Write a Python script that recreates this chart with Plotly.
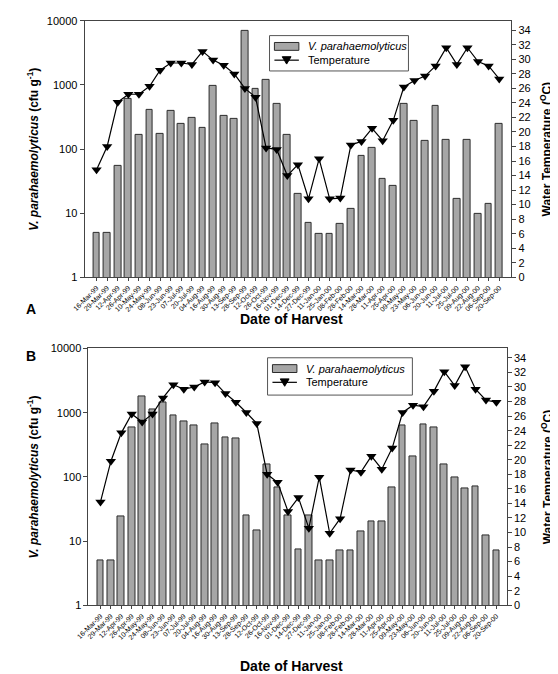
import plotly.graph_objects as go

dates = ["16-Mar-99", "29-Mar-99", "12-Apr-99", "26-Apr-99", "10-May-99", "24-May-99",
         "08-Jun-99", "23-Jun-99", "07-Jul-99", "20-Jul-99", "04-Aug-99", "16-Aug-99",
         "30-Aug-99", "13-Sep-99", "28-Sep-99", "12-Oct-99", "26-Oct-99", "16-Nov-99",
         "01-Dec-99", "14-Dec-99", "27-Dec-99", "11-Jan-00", "25-Jan-00", "08-Feb-00",
         "28-Feb-00", "14-Mar-00", "28-Mar-00", "11-Apr-00", "25-Apr-00", "09-May-00",
         "23-May-00", "06-Jun-00", "20-Jun-00", "11-Jul-00", "25-Jul-00", "09-Aug-00",
         "22-Aug-00", "06-Sep-00", "20-Sep-00"]

vp_a = [5, 5, 55, 600, 167, 405, 173, 393, 246, 307, 216, 960, 325, 297, 6950, 873,
        1200, 515, 165, 20, 7, 4.8, 4.8, 6.9, 11.7, 77, 105, 34, 27, 500, 273, 133,
        469, 141, 16.6, 138, 9.8, 14, 250]
temp_a = [14.8, 18.0, 24.1, 25.2, 25.2, 26.3, 28.5, 29.5, 29.5, 29.3, 31.1, 29.9, 29.2,
          28.0, 26.0, 24.8, 17.8, 17.6, 14.0, 15.5, 10.8, 16.3, 10.8, 10.9, 18.2, 18.7,
          20.5, 18.8, 21.6, 26.2, 27.1, 27.7, 29.1, 31.6, 29.3, 31.6, 29.7, 29.1, 27.3]

vp_b = [5, 5, 24, 586, 1790, 1125, 1420, 890, 720, 630, 325, 680, 410, 394, 25.5, 14.5,
        157, 69, 25.5, 7.3, 25, 5, 5, 7.2, 7.2, 14.2, 20, 20, 69, 640, 210, 665, 586,
        157, 98, 65, 70, 12.3, 7.2]
temp_b = [14.2, 19.8, 23.7, 26.3, 25.2, 26.3, 28.5, 30.3, 29.7, 30.0, 30.7, 30.6, 29.1,
          27.9, 26.5, 25.0, 18.0, 16.9, 12.9, 14.8, 10.6, 17.6, 9.9, 11.9, 18.6, 18.3,
          20.5, 18.7, 21.6, 26.5, 27.5, 27.3, 29.4, 32.1, 30.2, 32.8, 29.7, 28.2, 27.9]

left_ticks = [1, 10, 100, 1000, 10000]
right_ticks = list(range(0, 36, 2))
legend_labels = ["<i>V. parahaemolyticus</i>", "Temperature"]

W, H = 558, 674
FONT = "Arial, Liberation Sans, sans-serif"
BAR_COLOR = "#a6a6a6"
BAR_EDGE = "#2b2b2b"
idx = list(range(len(dates)))

def px_x(v):
    return v / W

def px_y(v):
    return 1 - v / H

fig = go.Figure()

panels = [
    dict(vp=vp_a, temp=temp_a, xa="x", ya="y", ya2="y2",
         left=66, right=502, top=7, bottom=268, xr=[-1.13, 39.13],
         leg=(255, 22, 397, 58)),
    dict(vp=vp_b, temp=temp_b, xa="x2", ya="y3", ya2="y4",
         left=70, right=497.5, top=340.5, bottom=602, xr=[-1.15, 39.0],
         leg=(253, 350, 401, 388)),
]

for p in panels:
    fig.add_trace(go.Bar(
        x=idx, y=p["vp"], xaxis=p["xa"], yaxis=p["ya"], width=0.64,
        marker=dict(color=BAR_COLOR, line=dict(color=BAR_EDGE, width=1)),
        name="V. parahaemolyticus", showlegend=False))
    fig.add_trace(go.Scatter(
        x=idx, y=p["temp"], xaxis=p["xa"], yaxis=p["ya2"], mode="lines+markers",
        line=dict(color="black", width=1.2),
        marker=dict(symbol="triangle-down", size=9, color="black"),
        name="Temperature", showlegend=False))

layout = dict(
    width=W, height=H, margin=dict(l=0, r=0, t=0, b=0),
    paper_bgcolor="white", plot_bgcolor="white",
    font=dict(family=FONT, color="black"),
    bargap=0, showlegend=False,
)

axis_names = [("xaxis", "yaxis", "yaxis2", "y", "x"), ("xaxis2", "yaxis3", "yaxis4", "y3", "x2")]
for p, (xn, yn, yn2, yref, xref) in zip(panels, axis_names):
    xd = [px_x(p["left"]), px_x(p["right"])]
    yd = [px_y(p["bottom"]), px_y(p["top"])]
    layout[xn] = dict(
        domain=xd, anchor=yref, range=p["xr"], tickmode="array", tickvals=idx,
        ticktext=dates, tickangle=-45, tickfont=dict(size=7, family=FONT, color="black"),
        showline=True, linecolor="#444", linewidth=1, mirror=True,
        ticks="outside", ticklen=3, tickcolor="#444", showgrid=False, zeroline=False)
    layout[yn] = dict(
        domain=yd, anchor=xref, type="log", range=[0, 4], tickmode="array",
        tickvals=left_ticks, ticktext=[str(t) for t in left_ticks],
        tickfont=dict(size=11, family=FONT, color="black"), ticks="outside", ticklen=4,
        showline=True, linecolor="#444", linewidth=1, showgrid=False, zeroline=False)
    layout[yn2] = dict(
        domain=yd, anchor=xref, overlaying=yref, side="right", range=[0, 35.3],
        tickmode="array", tickvals=right_ticks,
        tickfont=dict(size=11, family=FONT, color="black"),
        ticks="outside", ticklen=4, showline=True, linecolor="#444", linewidth=1,
        showgrid=False, zeroline=False)

shapes = []
annotations = []

# legend boxes (drawn in pixel space of the page)
for p in panels:
    x0, y0, x1, y1 = p["leg"]
    shapes.append(dict(type="rect", xref="paper", yref="paper",
                       x0=px_x(x0), x1=px_x(x1), y0=px_y(y1), y1=px_y(y0),
                       line=dict(color="#555", width=1), fillcolor="white", layer="above"))
    r1 = y0 + 11
    r2 = y0 + 25
    shapes.append(dict(type="rect", xref="paper", yref="paper",
                       x0=px_x(x0 + 5), x1=px_x(x0 + 30), y0=px_y(r1 + 4), y1=px_y(r1 - 4),
                       line=dict(color=BAR_EDGE, width=1), fillcolor=BAR_COLOR, layer="above"))
    shapes.append(dict(type="line", xref="paper", yref="paper",
                       x0=px_x(x0 + 5), x1=px_x(x0 + 30), y0=px_y(r2), y1=px_y(r2),
                       line=dict(color="black", width=1.2), layer="above"))
    cx = x0 + 17.5
    path = "M %f,%f L %f,%f L %f,%f Z" % (
        px_x(cx - 4.5), px_y(r2 - 3.5), px_x(cx + 4.5), px_y(r2 - 3.5),
        px_x(cx), px_y(r2 + 4))
    shapes.append(dict(type="path", xref="paper", yref="paper", path=path,
                       fillcolor="black", line=dict(color="black", width=1), layer="above"))
    for label, ry in zip(legend_labels, [r1, r2]):
        annotations.append(dict(text=label, x=px_x(x0 + 37), y=px_y(ry), xref="paper",
                                yref="paper", xanchor="left", yanchor="middle",
                                showarrow=False, font=dict(size=11, family=FONT)))

for p, letter, ly in zip(panels, ["A", "B"], [300, 348]):
    mid = (p["top"] + p["bottom"]) / 2
    annotations.append(dict(
        text="<b><i>V. parahaemolyticus</i> (cfu g<sup>-1</sup>)</b>", textangle=-90,
        x=px_x(13), y=px_y(mid), xref="paper", yref="paper", showarrow=False,
        xanchor="center", yanchor="middle", font=dict(size=12, family=FONT)))
    annotations.append(dict(
        text="<b>Water Temperature (<sup>O</sup>C)</b>", textangle=-90,
        x=px_x(538), y=px_y(mid), xref="paper", yref="paper", showarrow=False,
        xanchor="center", yanchor="middle", font=dict(size=12, family=FONT)))
    annotations.append(dict(
        text="<b>%s</b>" % letter, x=px_x(11), y=px_y(ly), xref="paper", yref="paper",
        xanchor="center", yanchor="middle", showarrow=False,
        font=dict(size=14, family=FONT)))

for ty in [311, 664]:
    annotations.append(dict(text="<b>Date of Harvest</b>", x=px_x(277), y=px_y(ty),
                            xref="paper", yref="paper", showarrow=False,
                            xanchor="center", yanchor="middle",
                            font=dict(size=14, family=FONT)))

layout["shapes"] = shapes
layout["annotations"] = annotations

fig.update_layout(**layout)
fig.write_html("out.html")
